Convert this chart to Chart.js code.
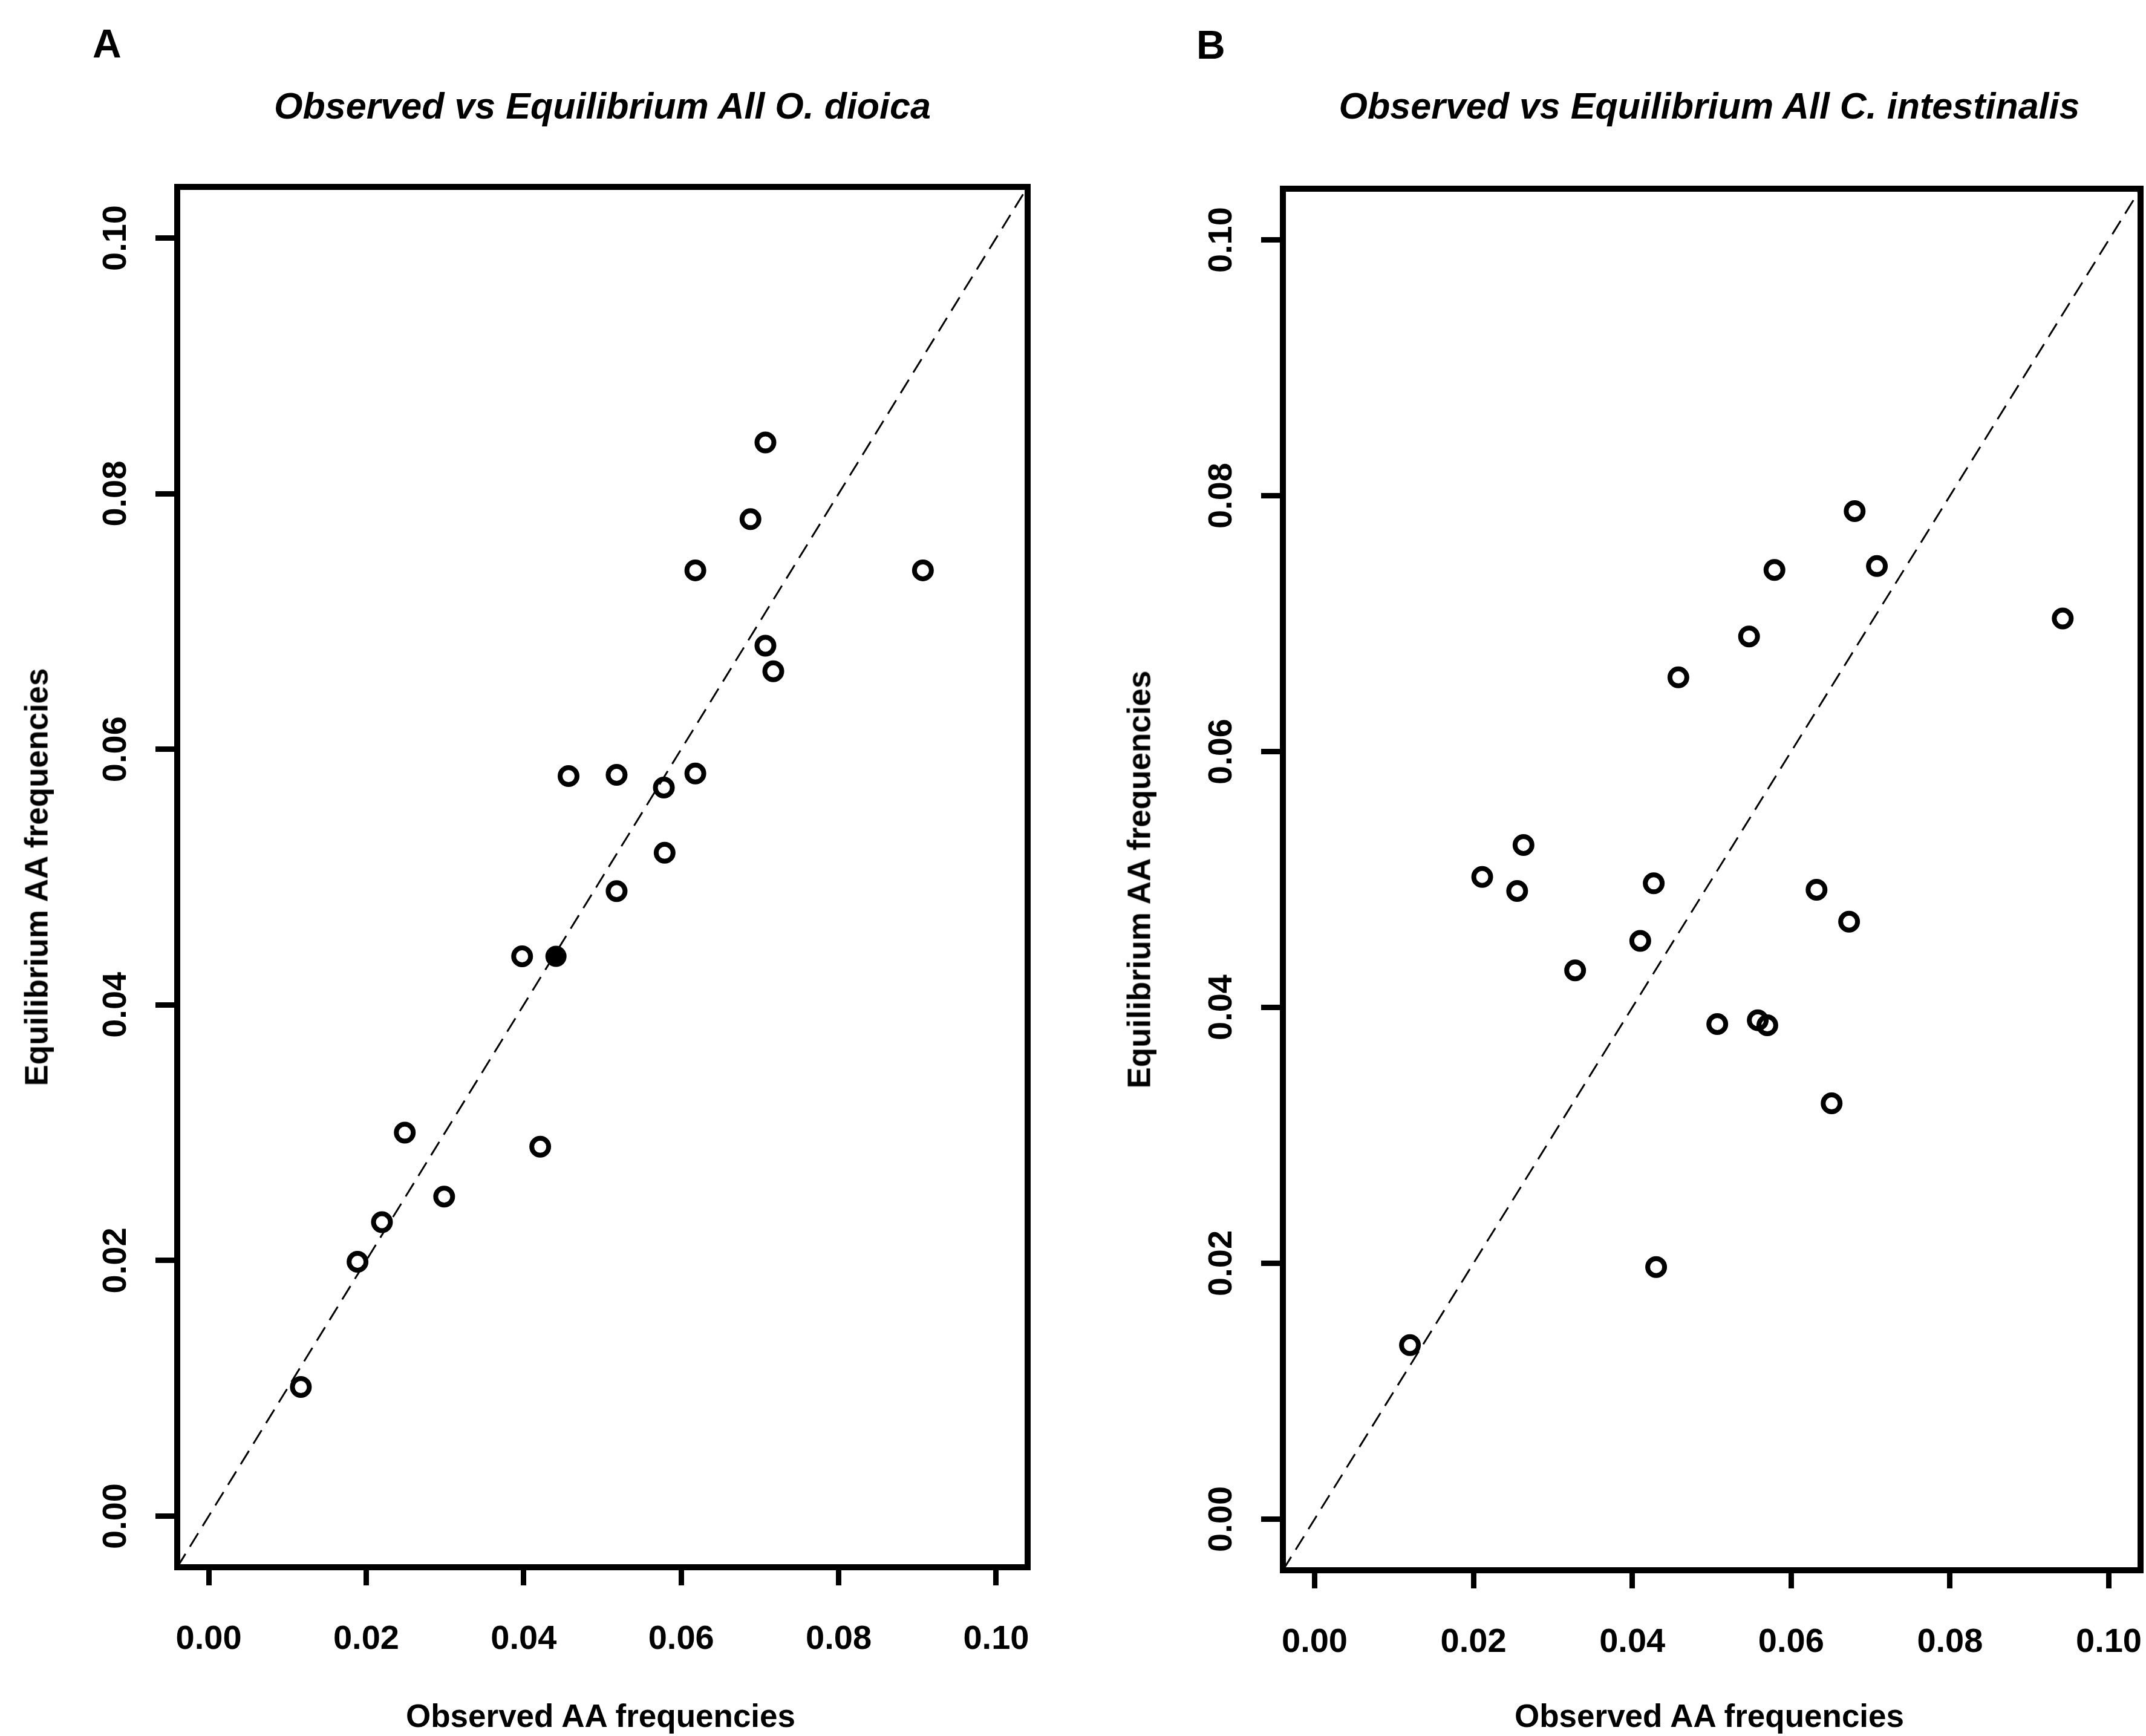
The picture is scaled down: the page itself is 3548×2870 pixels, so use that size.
<!DOCTYPE html>
<html>
<head>
<meta charset="utf-8">
<script src="https://cdn.jsdelivr.net/npm/chart.js@4.4.1/dist/chart.umd.min.js"></script>
<style>
  html, body { margin: 0; padding: 0; background: #fff; }
  #page { position: relative; width: 3548px; height: 2870px; overflow: hidden;
          font-family: "Liberation Sans", Arial, Helvetica, sans-serif; color: #000; background: #fff; }
  canvas { position: absolute; top: 0; }
  .txt { position: absolute; white-space: nowrap; line-height: 1; font-weight: bold; }
  .letter { font-size: 66px; }
  .title { font-size: 61px; font-style: italic; transform: translateX(-50%); }
  .xlab { font-size: 53px; transform: translateX(-50%); }
  .ylab { font-size: 53px; transform: translate(-50%, -50%) rotate(-90deg); }
</style>
</head>
<body>
<div id="page">
  <!-- canvas B is wider than its half so the last x label has room; the page clips it -->
  <canvas id="chartA" width="1774" height="2870" style="left:0px"></canvas>
  <canvas id="chartB" width="1874" height="2870" style="left:1774px"></canvas>

  <div class="txt letter" style="left:153px; top:39px">A</div>
  <div class="txt letter" style="left:1978px; top:41px">B</div>
  <div class="txt title" style="left:996px; top:145px">Observed vs Equilibrium All O. dioica</div>
  <div class="txt title" style="left:2826px; top:145px">Observed vs Equilibrium All C. intestinalis</div>
  <div class="txt xlab" style="left:993px; top:2810px">Observed AA frequencies</div>
  <div class="txt xlab" style="left:2826px; top:2810px">Observed AA frequencies</div>
  <div class="txt ylab" style="left:60px; top:1450px">Equilibrium AA frequencies</div>
  <div class="txt ylab" style="left:1883px; top:1454px">Equilibrium AA frequencies</div>
</div>

<script>
// axes (same for both panels)
const tickValues = [0, 0.02, 0.04, 0.06, 0.08, 0.10];
const tickLabels = ['0.00', '0.02', '0.04', '0.06', '0.08', '0.10'];
const axisRange = [-0.004, 0.104];
const diagonal = [-0.004, 0.104]; // y = x reference line

// A: O. dioica (open circles)
const observedA = [0.0117, 0.0189, 0.0220, 0.0249, 0.0299, 0.0398, 0.0421, 0.0457, 0.0518, 0.0518,
                   0.0578, 0.0579, 0.0618, 0.0618, 0.0688, 0.0707, 0.0707, 0.0717, 0.0907];
const equilibriumA = [0.0101, 0.0199, 0.0230, 0.0300, 0.0250, 0.0438, 0.0289, 0.0579, 0.0580, 0.0489,
                      0.0570, 0.0519, 0.0581, 0.0740, 0.0780, 0.0840, 0.0681, 0.0661, 0.0740];
// A: the one solid point
const observedAFilled = [0.0441];
const equilibriumAFilled = [0.0438];

// B: C. intestinalis
const observedB = [0.0120, 0.0211, 0.0255, 0.0263, 0.0328, 0.0410, 0.0427, 0.0430, 0.0458, 0.0507,
                   0.0547, 0.0558, 0.0570, 0.0579, 0.0632, 0.0651, 0.0673, 0.0680, 0.0708, 0.0942];
const equilibriumB = [0.0136, 0.0502, 0.0491, 0.0527, 0.0429, 0.0452, 0.0497, 0.0197, 0.0658, 0.0387,
                      0.0690, 0.0390, 0.0386, 0.0742, 0.0492, 0.0325, 0.0467, 0.0788, 0.0745, 0.0704];

Chart.defaults.font.family = '"Liberation Sans", Arial, Helvetica, sans-serif';
Chart.defaults.color = '#000';

const toPoints = (xs, ys) => xs.map((x, i) => ({ x: x, y: ys[i] }));

// draws the R style box round the plot region
const boxPlugin = {
  id: 'plotBox',
  afterDraw(chart) {
    const a = chart.chartArea;
    const ctx = chart.ctx;
    ctx.save();
    ctx.strokeStyle = '#000';
    ctx.lineWidth = 10;
    ctx.strokeRect(a.left, a.top, a.right - a.left, a.bottom - a.top);
    ctx.restore();
  }
};

function makePanel(id, openPts, filledPts, frame) {
  const tickFont = { size: 56, weight: 'bold' };
  const datasets = [
    {
      type: 'line',
      data: toPoints(diagonal, diagonal),
      borderColor: '#000',
      borderWidth: 3,
      borderDash: [26, 14],
      pointRadius: 0,
      fill: false
    },
    {
      type: 'scatter',
      data: openPts,
      pointRadius: 14,
      pointBorderWidth: 8,
      pointBorderColor: '#000',
      pointBackgroundColor: 'rgba(0,0,0,0)'
    }
  ];
  if (filledPts.length) {
    datasets.push({
      type: 'scatter',
      data: filledPts,
      pointRadius: 16,
      pointBorderWidth: 3,
      pointBorderColor: '#000',
      pointBackgroundColor: '#000'
    });
  }

  return new Chart(document.getElementById(id), {
    data: { datasets: datasets },
    plugins: [boxPlugin],
    options: {
      responsive: false,
      animation: false,
      devicePixelRatio: 1,
      events: [],
      layout: { padding: { left: 0, top: frame.top, right: frame.right, bottom: 0 } },
      plugins: { legend: { display: false }, tooltip: { enabled: false } },
      scales: {
        x: {
          type: 'linear',
          position: 'bottom',
          min: axisRange[0],
          max: axisRange[1],
          afterBuildTicks: (s) => { s.ticks = tickValues.map(v => ({ value: v })); },
          afterFit: (s) => { s.height = frame.xHeight; },
          ticks: {
            font: tickFont, color: '#000', padding: 56, autoSkip: false,
            minRotation: 0, maxRotation: 0,
            callback: (v, i) => tickLabels[i]
          },
          grid: { drawOnChartArea: false, drawTicks: true, tickLength: 30, tickWidth: 9, tickColor: '#000' },
          border: { display: false }
        },
        y: {
          type: 'linear',
          position: 'left',
          min: axisRange[0],
          max: axisRange[1],
          afterBuildTicks: (s) => { s.ticks = tickValues.map(v => ({ value: v })); },
          afterFit: (s) => { s.width = frame.yWidth; },
          ticks: {
            font: tickFont, color: '#000', padding: 10, autoSkip: false,
            minRotation: 90, maxRotation: 90, crossAlign: 'center',
            callback: (v, i) => tickLabels[i]
          },
          grid: { drawOnChartArea: false, drawTicks: true, tickLength: 36, tickWidth: 9, tickColor: '#000' },
          border: { display: false }
        }
      }
    }
  });
}

makePanel('chartA', toPoints(observedA, equilibriumA), toPoints(observedAFilled, equilibriumAFilled),
  { top: 309, right: 75, yWidth: 293, xHeight: 279 });
makePanel('chartB', toPoints(observedB, equilibriumB), [],
  { top: 312, right: 109, yWidth: 347, xHeight: 274 });
</script>
</body>
</html>
